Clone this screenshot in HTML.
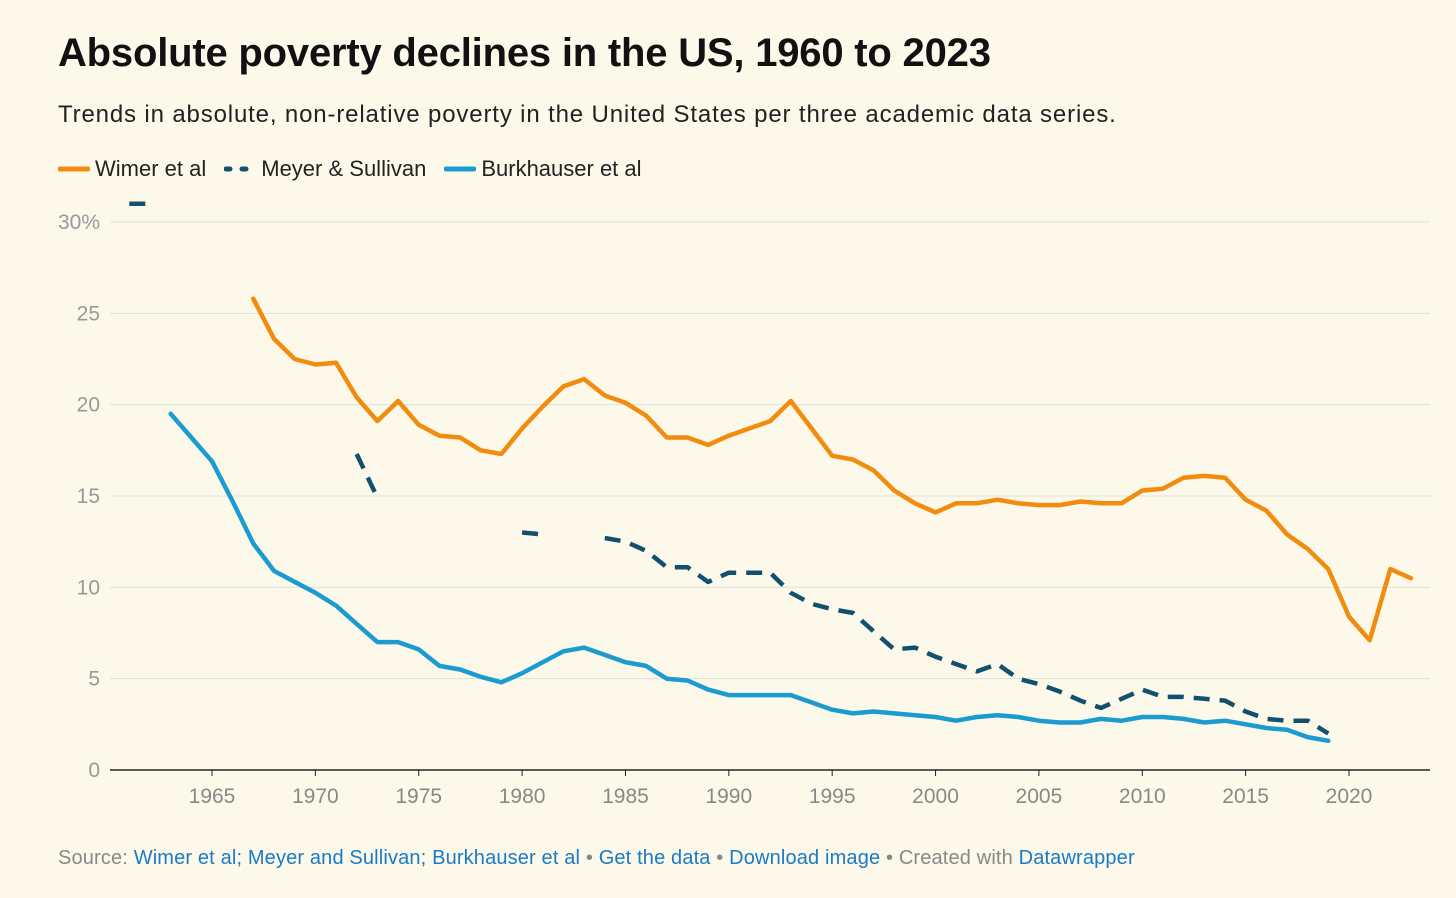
<!DOCTYPE html>
<html><head><meta charset="utf-8">
<style>
body{margin:0;background:#fcf9ea;font-family:"Liberation Sans",sans-serif;}
#wrap{position:relative;width:1456px;height:898px;overflow:hidden;}
h1{position:absolute;left:58px;top:31px;margin:0;font-size:40px;font-weight:bold;color:#111;letter-spacing:-0.2px}
.sub{position:absolute;left:58px;top:101px;font-size:24px;color:#222;letter-spacing:0.85px}
.legend{position:absolute;left:58px;top:156px;font-size:22px;color:#222;display:flex;gap:18px;align-items:center}
.li{display:flex;align-items:center;gap:5px}
.src{position:absolute;left:58px;top:847px;font-size:20px;color:#888;letter-spacing:0.15px}
.src a{color:#1a7ac7;text-decoration:none}
</style></head><body>
<div id="wrap">
<h1>Absolute poverty declines in the US, 1960 to 2023</h1>
<div class="sub">Trends in absolute, non-relative poverty in the United States per three academic data series.</div>
<div class="legend">
 <div class="li"><svg width="32" height="8"><line x1="2" y1="4" x2="30" y2="4" stroke="#f28c0f" stroke-width="5" stroke-linecap="round"/></svg>Wimer et al</div>
 <div class="li"><svg width="32" height="8"><line x1="2" y1="4" x2="30" y2="4" stroke="#13506e" stroke-width="5" stroke-linecap="round" stroke-dasharray="4 12"/></svg>Meyer &amp; Sullivan</div>
 <div class="li"><svg width="32" height="8"><line x1="2" y1="4" x2="30" y2="4" stroke="#1c9bd0" stroke-width="5" stroke-linecap="round"/></svg>Burkhauser et al</div>
</div>
<svg id="chart" width="1456" height="898" style="position:absolute;left:0;top:0"></svg>
<div class="src">Source: <a>Wimer et al; Meyer and Sullivan; Burkhauser et al</a> • <a>Get the data</a> • <a>Download image</a> • Created with <a>Datawrapper</a></div>
</div>
<script>
const yTicks=[0,5,10,15,20,25,30];
const yTickLabels=["0","5","10","15","20","25","30%"];
const xTicks=[1965,1970,1975,1980,1985,1990,1995,2000,2005,2010,2015,2020];
const wimerYears=[1967,1968,1969,1970,1971,1972,1973,1974,1975,1976,1977,1978,1979,1980,1981,1982,1983,1984,1985,1986,1987,1988,1989,1990,1991,1992,1993,1994,1995,1996,1997,1998,1999,2000,2001,2002,2003,2004,2005,2006,2007,2008,2009,2010,2011,2012,2013,2014,2015,2016,2017,2018,2019,2020,2021,2022,2023];
const wimerValues=[25.8,23.6,22.5,22.2,22.3,20.4,19.1,20.2,18.9,18.3,18.2,17.5,17.3,18.7,19.9,21.0,21.4,20.5,20.1,19.4,18.2,18.2,17.8,18.3,18.7,19.1,20.2,18.7,17.2,17.0,16.4,15.3,14.6,14.1,14.6,14.6,14.8,14.6,14.5,14.5,14.7,14.6,14.6,15.3,15.4,16.0,16.1,16.0,14.8,14.2,12.9,12.1,11.0,8.4,7.1,11.0,10.5];
const meyerYears=[1961,1962,null,1972,1973,null,1980,1981,null,1984,1985,1986,1987,1988,1989,1990,1991,1992,1993,1994,1995,1996,1997,1998,1999,2000,2001,2002,2003,2004,2005,2006,2007,2008,2009,2010,2011,2012,2013,2014,2015,2016,2017,2018,2019];
const meyerValues=[31.0,31.0,null,17.3,14.9,null,13.0,12.9,null,12.7,12.5,12.0,11.1,11.1,10.3,10.8,10.8,10.8,9.7,9.1,8.8,8.6,7.6,6.6,6.7,6.2,5.8,5.4,5.8,5.0,4.7,4.3,3.8,3.4,3.9,4.4,4.0,4.0,3.9,3.8,3.2,2.8,2.7,2.7,2.0];
const burkYears=[1963,1964,1965,1966,1967,1968,1969,1970,1971,1972,1973,1974,1975,1976,1977,1978,1979,1980,1981,1982,1983,1984,1985,1986,1987,1988,1989,1990,1991,1992,1993,1994,1995,1996,1997,1998,1999,2000,2001,2002,2003,2004,2005,2006,2007,2008,2009,2010,2011,2012,2013,2014,2015,2016,2017,2018,2019];
const burkValues=[19.5,18.2,16.9,14.7,12.4,10.9,10.3,9.7,9.0,8.0,7.0,7.0,6.6,5.7,5.5,5.1,4.8,5.3,5.9,6.5,6.7,6.3,5.9,5.7,5.0,4.9,4.4,4.1,4.1,4.1,4.1,3.7,3.3,3.1,3.2,3.1,3.0,2.9,2.7,2.9,3.0,2.9,2.7,2.6,2.6,2.8,2.7,2.9,2.9,2.8,2.6,2.7,2.5,2.3,2.2,1.8,1.6];

const NS="http://www.w3.org/2000/svg";
const svg=document.getElementById('chart');
const x=yr=>212+(yr-1965)*(1137/55);
const y=v=>770-v*(548/30);
function mk(tag,attrs){const e=document.createElementNS(NS,tag);for(const k in attrs)e.setAttribute(k,attrs[k]);svg.appendChild(e);return e;}
yTicks.forEach((t,i)=>{
  if(t>0){const g=mk('line',{x1:110,x2:1430,y1:y(t),y2:y(t),stroke:'#dfe0dc','stroke-width':1});
  
  }
  const tx=mk('text',{x:100,y:y(t)+7,'text-anchor':'end','font-size':21,fill:'#999','font-family':'Liberation Sans, sans-serif'});
  tx.textContent=yTickLabels[i];
  
  
});
const ax=mk('line',{x1:110,x2:1430,y1:770,y2:770,stroke:'#222','stroke-width':1.5});


xTicks.forEach(t=>{
  const tk=mk('line',{x1:x(t),x2:x(t),y1:770,y2:776,stroke:'#222','stroke-width':1});
  
  
  const tx=mk('text',{x:x(t),y:803,'text-anchor':'middle','font-size':21,fill:'#888','font-family':'Liberation Sans, sans-serif'});
  tx.textContent=t;
  
  
});
function pathFrom(ys,vs){let d='',pen=false;for(let i=0;i<ys.length;i++){if(ys[i]===null){pen=false;continue;}d+=(pen?'L':'M')+x(ys[i]).toFixed(1)+','+y(vs[i]).toFixed(1);pen=true;}return d;}
const p1=mk('path',{d:pathFrom(wimerYears,wimerValues),fill:'none',stroke:'#f28c0f','stroke-width':4.5,'stroke-linejoin':'round','stroke-linecap':'round'});


const p2=mk('path',{d:pathFrom(meyerYears,meyerValues),fill:'none',stroke:'#13506e','stroke-width':4.5,'stroke-linejoin':'round','stroke-dasharray':'16 10'});


const p3=mk('path',{d:pathFrom(burkYears,burkValues),fill:'none',stroke:'#1c9bd0','stroke-width':4.5,'stroke-linejoin':'round','stroke-linecap':'round'});


</script>
</body></html>
